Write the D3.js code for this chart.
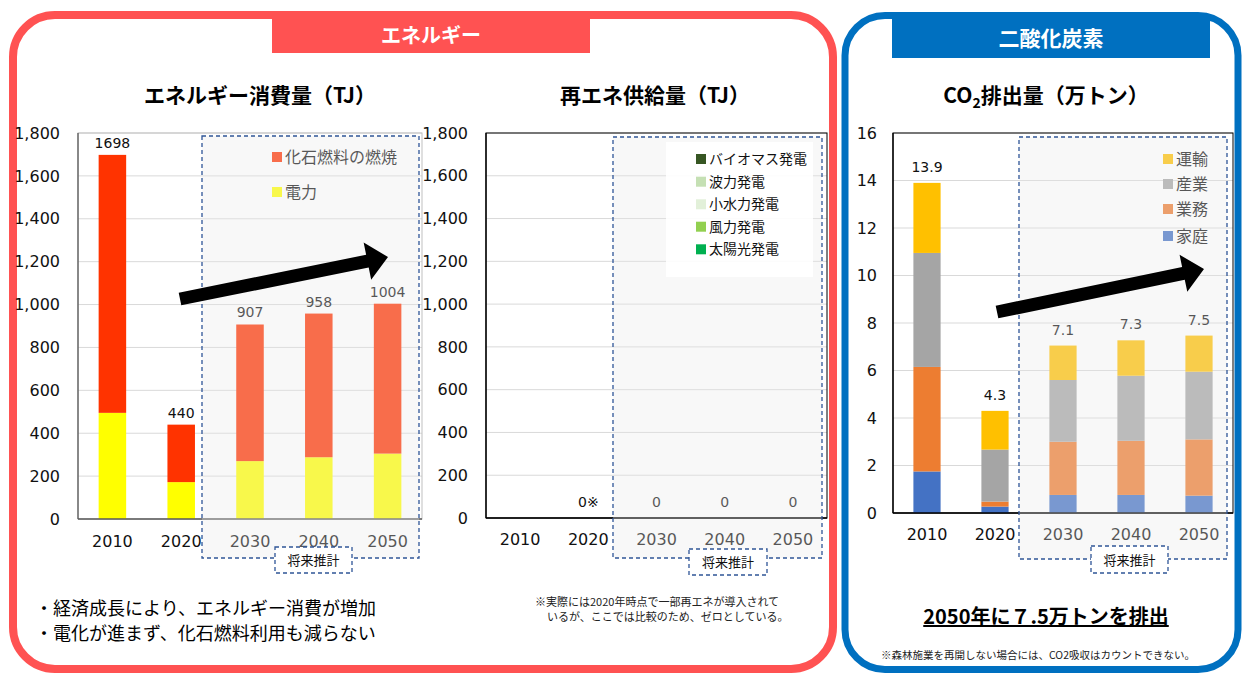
<!DOCTYPE html>
<meta charset="utf-8">
<style>
body { margin: 0; background: #fff; }
text { font-family: "Noto Sans CJK JP", sans-serif; }
text.num, .num text { font-family: "DejaVu Sans", sans-serif; }
</style>
<svg width="1242" height="673"></svg>
<script src="https://cdn.jsdelivr.net/npm/d3@7"></script>
<script>
/*global d3*/
var years = ["2010", "2020", "2030", "2040", "2050"];

// エネルギー消費量 (TJ)
var fossil = [1203, 268, 637, 670, 699];      // 化石燃料の燃焼
var power = [495, 172, 270, 288, 305];        // 電力
var energyTotal = ["1698", "440", "907", "958", "1004"];
var energyTicks = [0, 200, 400, 600, 800, 1000, 1200, 1400, 1600, 1800];

// 再エネ供給量 (TJ)
var reNames = ["バイオマス発電", "波力発電", "小水力発電", "風力発電", "太陽光発電"];
var reValues = [0, 0, 0, 0, 0];
var reLabels = ["", "0※", "0", "0", "0"];

// CO2排出量 (万トン)
var co2Names = ["家庭", "業務", "産業", "運輸"];
var co2Home = [1.75, 0.27, 0.76, 0.76, 0.73];
var co2Business = [4.4, 0.21, 2.24, 2.28, 2.37];
var co2Industry = [4.8, 2.19, 2.6, 2.74, 2.85];
var co2Transport = [2.95, 1.63, 1.45, 1.49, 1.52];
var co2Labels = ["13.9", "4.3", "7.1", "7.3", "7.5"];
var co2Ticks = [0, 2, 4, 6, 8, 10, 12, 14, 16];

var energyColors = ["#FF3300", "#FFFF00"];   // fossil, power
var reColors = ["#375623", "#C5E0B4", "#E2F0D9", "#92D050", "#00B050"];
var co2Colors = ["#4472C4", "#ED7D31", "#A5A5A5", "#FFC000"];

var svg = d3.select("svg");
svg.append("rect").attr("width", 1242).attr("height", 673).attr("fill", "#fff");

// ---- outer frames
svg.append("rect").attr("x", 13).attr("y", 15).attr("width", 820).attr("height", 654)
  .attr("rx", 42).attr("fill", "none").attr("stroke", "#FF5252").attr("stroke-width", 8);
svg.append("rect").attr("x", 272).attr("y", 19).attr("width", 318).attr("height", 34).attr("fill", "#FF5252");
svg.append("text").attr("x", 431).attr("y", 43).attr("text-anchor", "middle")
  .attr("font-size", 20).attr("font-weight", "bold").attr("fill", "#fff").text("エネルギー");

svg.append("rect").attr("x", 845).attr("y", 15.5).attr("width", 393).attr("height", 654)
  .attr("rx", 40).attr("fill", "none").attr("stroke", "#0070C0").attr("stroke-width", 7);
svg.append("rect").attr("x", 892).attr("y", 19).attr("width", 318).attr("height", 39).attr("fill", "#0070C0");
svg.append("text").attr("x", 1051).attr("y", 46).attr("text-anchor", "middle")
  .attr("font-size", 21).attr("font-weight", "bold").attr("fill", "#fff").text("二酸化炭素");

function panel(o) {
  var g = svg.append("g");
  var x = d3.scaleBand().domain(years).range([o.left, o.right]).paddingInner(0.6).paddingOuter(0.3);
  var y = d3.scaleLinear().domain([0, o.max]).range([o.bottom, o.top]);
  // grid
  g.selectAll(".grid").data(o.ticks.slice(1)).enter().append("line")
    .attr("x1", o.left).attr("x2", o.right)
    .attr("y1", function(d) { return y(d); }).attr("y2", function(d) { return y(d); })
    .attr("stroke", "#D9D9D9").attr("stroke-width", 1);
  g.append("rect").attr("x", o.left).attr("y", o.top)
    .attr("width", o.right - o.left).attr("height", o.bottom - o.top)
    .attr("fill", "none").attr("stroke", o.frame).attr("stroke-width", 1);
  // y axis
  var ya = g.append("g").attr("class", "num").attr("transform", "translate(" + o.left + ",0)")
    .call(d3.axisLeft(y).tickValues(o.ticks).tickSize(0).tickPadding(o.left - o.labelRight).tickFormat(o.fmt));
  ya.select(".domain").remove();
  ya.selectAll("text").attr("font-size", 16).attr("fill", "#111");
  // x axis
  var xa = g.append("g").attr("class", "num").attr("transform", "translate(0," + o.bottom + ")")
    .call(d3.axisBottom(x).tickSize(0).tickPadding(o.xPad));
  xa.select(".domain").remove();
  xa.selectAll("text").attr("font-size", 16).attr("fill", "#111");
  // stacked bars
  var rows = years.map(function(yr, i) {
    var r = { year: yr };
    o.series.forEach(function(s, k) { r[k] = s[i]; });
    return r;
  });
  var stack = d3.stack().keys(o.series.map(function(s, k) { return k; }))(rows);
  g.selectAll(".layer").data(stack).enter().append("g")
    .attr("fill", function(d, k) { return o.colors[k]; })
    .selectAll("rect").data(function(d) { return d; }).enter().append("rect")
    .attr("x", function(d) { return x(d.data.year); })
    .attr("width", x.bandwidth())
    .attr("y", function(d) { return y(d[1]); })
    .attr("height", function(d) { return y(d[0]) - y(d[1]); });
  // axis lines
  g.append("line").attr("x1", o.left).attr("x2", o.left).attr("y1", o.top).attr("y2", o.bottom)
    .attr("stroke", o.axis).attr("stroke-width", 1.3);
  g.append("line").attr("x1", o.left).attr("x2", o.right).attr("y1", o.bottom).attr("y2", o.bottom)
    .attr("stroke", o.axis).attr("stroke-width", 1.3);
  // totals
  g.selectAll(".lbl").data(years).enter().append("text").attr("class", "num")
    .attr("x", function(d) { return x(d) + x.bandwidth() / 2; })
    .attr("y", function(d, i) { return y(d3.sum(o.series, function(s) { return s[i]; })) - o.lblGap; })
    .attr("text-anchor", "middle").attr("font-size", 14).attr("fill", "#111")
    .text(function(d, i) { return o.labels[i]; });
  return { g: g, x: x, y: y };
}

function legend(items, colors, x0, ys, size, fill) {
  var lg = svg.append("g");
  items.forEach(function(name, i) {
    lg.append("rect").attr("x", x0).attr("y", ys[i] - 5).attr("width", 10).attr("height", 10).attr("fill", colors[i]);
    lg.append("text").attr("x", x0 + 13).attr("y", ys[i] + size * 0.36).attr("font-size", size)
      .attr("fill", fill).text(name);
  });
}

function futureBox(x0, y0, x1, y1, bx0, by0, bx1, by1) {
  svg.append("rect").attr("x", x0).attr("y", y0).attr("width", x1 - x0).attr("height", y1 - y0)
    .attr("fill", "rgb(233,233,233)").attr("fill-opacity", 0.32)
    .attr("stroke", "#2F5597").attr("stroke-width", 1.3).attr("stroke-dasharray", "4,3");
  svg.append("rect").attr("x", bx0).attr("y", by0).attr("width", bx1 - bx0).attr("height", by1 - by0)
    .attr("fill", "#fff").attr("stroke", "#2F5597").attr("stroke-width", 1.3).attr("stroke-dasharray", "4,3");
  svg.append("text").attr("x", (bx0 + bx1) / 2).attr("y", (by0 + by1) / 2 + 5)
    .attr("text-anchor", "middle").attr("font-size", 13).attr("fill", "#111").text("将来推計");
}

function arrow(x1, y1, x2, y2) {
  var dx = x2 - x1, dy = y2 - y1, L = Math.hypot(dx, dy);
  var ux = dx / L, uy = dy / L, nx = -uy, ny = ux;
  var hl = 21, hw = 19, sw = 6.5;
  var bx = x2 - ux * hl, by = y2 - uy * hl;
  var p = [
    [x1 + nx * sw, y1 + ny * sw], [bx + nx * sw, by + ny * sw], [bx + nx * hw, by + ny * hw],
    [x2, y2], [bx - nx * hw, by - ny * hw], [bx - nx * sw, by - ny * sw], [x1 - nx * sw, y1 - ny * sw]
  ];
  svg.append("path").attr("d", d3.line()(p) + "Z").attr("fill", "#000");
}

// ---- left: エネルギー消費量
svg.append("text").attr("x", 260).attr("y", 103).attr("text-anchor", "middle")
  .attr("font-size", 21).attr("font-weight", "bold").text("エネルギー消費量（TJ）");
panel({ left: 78, right: 422, top: 133, bottom: 519, max: 1800, ticks: energyTicks,
  fmt: d3.format(","), labelRight: 60, xPad: 17, series: [power, fossil],
  colors: [energyColors[1], energyColors[0]], labels: energyTotal, lblGap: 7,
  frame: "#BFBFBF", axis: "#595959" });
legend(["化石燃料の燃焼", "電力"], energyColors, 272, [157, 192], 16, "#111");
futureBox(202, 136, 419, 558, 275, 547, 352, 573);
arrow(180, 299, 388, 257);
svg.append("text").attr("x", 35).attr("y", 615).attr("font-size", 18).text("・経済成長により、エネルギー消費が増加");
svg.append("text").attr("x", 35).attr("y", 640).attr("font-size", 18).text("・電化が進まず、化石燃料利用も減らない");

// ---- middle: 再エネ供給量
svg.append("text").attr("x", 655).attr("y", 103).attr("text-anchor", "middle")
  .attr("font-size", 21).attr("font-weight", "bold").text("再エネ供給量（TJ）");
panel({ left: 486, right: 827, top: 133, bottom: 518, max: 1800, ticks: energyTicks,
  fmt: d3.format(","), labelRight: 468, xPad: 16, series: reNames.map(function() { return reValues; }),
  colors: reColors, labels: reLabels, lblGap: 11, frame: "#000", axis: "#000" });
futureBox(613, 137, 822, 558, 689, 549, 767, 575);
svg.append("rect").attr("x", 666).attr("y", 142).attr("width", 147).attr("height", 135)
  .attr("fill", "#fff").attr("fill-opacity", 0.9);
legend(reNames, reColors, 696, [159, 181.7, 204.3, 226.7, 249.3], 14, "#111");
svg.append("text").attr("x", 535).attr("y", 606).attr("font-size", 11).attr("fill", "#222")
  .text("※実際には2020年時点で一部再エネが導入されて");
svg.append("text").attr("x", 547).attr("y", 621).attr("font-size", 11).attr("fill", "#222")
  .text("いるが、ここでは比較のため、ゼロとしている。");

// ---- right: CO2排出量
var t = svg.append("text").attr("x", 1046).attr("y", 103).attr("text-anchor", "middle")
  .attr("font-size", 21).attr("font-weight", "bold");
t.append("tspan").text("CO");
t.append("tspan").attr("font-size", 14).attr("dy", 5).text("2");
t.append("tspan").attr("dy", -5).text("排出量（万トン）");
panel({ left: 893, right: 1233, top: 133, bottom: 513, max: 16, ticks: co2Ticks,
  fmt: d3.format("d"), labelRight: 877, xPad: 16,
  series: [co2Home, co2Business, co2Industry, co2Transport],
  colors: co2Colors, labels: co2Labels, lblGap: 11, frame: "#000", axis: "#000" });
legend(co2Names.slice().reverse(), co2Colors.slice().reverse(), 1163, [159, 184, 209, 236], 16, "#111");
futureBox(1019, 137, 1227, 559, 1091, 546, 1168, 573);
arrow(997, 312, 1204, 269);
svg.append("text").attr("x", 1046).attr("y", 624).attr("text-anchor", "middle")
  .attr("font-size", 20).attr("font-weight", "bold").attr("text-decoration", "underline")
  .text("2050年に７.5万トンを排出");
svg.append("text").attr("x", 1038).attr("y", 659).attr("text-anchor", "middle")
  .attr("font-size", 10.5).attr("fill", "#222")
  .text("※森林施業を再開しない場合には、CO2吸収はカウントできない。");
</script>
